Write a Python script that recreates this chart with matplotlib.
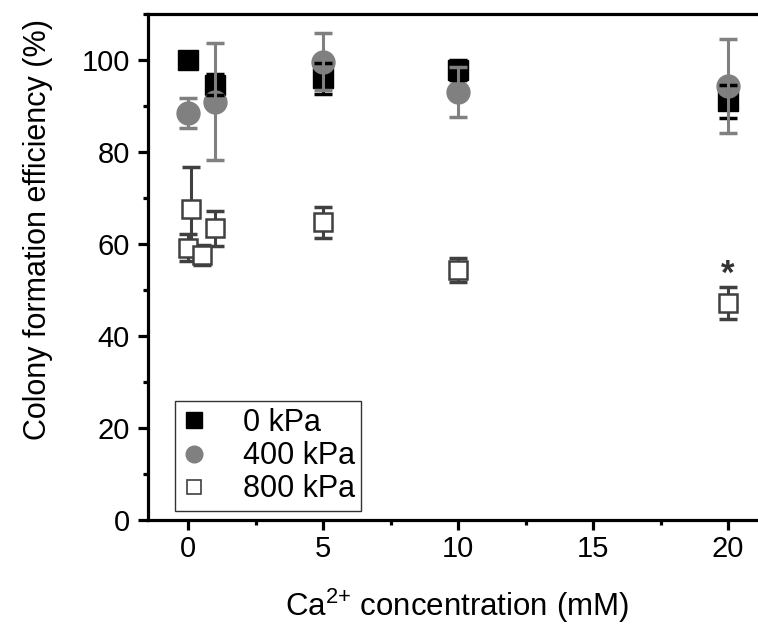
import matplotlib
matplotlib.use("Agg")
import matplotlib.pyplot as plt
from matplotlib.lines import Line2D
from matplotlib.ticker import MultipleLocator

plt.rcParams['font.family'] = ['Liberation Sans', 'DejaVu Sans']
plt.rcParams['mathtext.fontset'] = 'custom'
plt.rcParams['mathtext.rm'] = 'Liberation Sans'
plt.rcParams['mathtext.it'] = 'Liberation Sans'

# Colony formation efficiency (%) vs Ca2+ concentration (mM)
ca_0 = [0, 1, 5, 10, 20]
eff_0 = [100.0, 94.6, 96.0, 97.8, 91.0]
err_0 = [1.0, 2.3, 3.3, 2.2, 3.6]

ca_400 = [0, 1, 5, 10, 20]
eff_400 = [88.5, 90.9, 99.6, 93.1, 94.3]
err_400 = [3.3, 12.7, 6.2, 5.4, 10.2]

ca_800 = [0, 0.1, 0.5, 1, 5, 10, 20]
eff_800 = [59.2, 67.7, 57.6, 63.4, 64.7, 54.4, 47.2]
err_800 = [3.0, 9.0, 2.2, 3.8, 3.3, 2.6, 3.5]

labels = ["0 kPa", "400 kPa", "800 kPa"]
signif_x, signif_y = 20, 51.3

TICK_FS = 21
LABEL_FS = 22
LEG_FS = 22

fig = plt.figure(figsize=(7.58, 6.25), dpi=100)
ax = fig.add_axes([148 / 758, 105 / 625, (772 - 148) / 758, (520 - 14) / 625])

black, grey, dark = "#000000", "#808080", "#404040"

# markers for the two upper series
ax.plot(ca_0, eff_0, ls="none", marker="s", ms=15, mfc=black, mec=black, zorder=2)
ax.plot(ca_400, eff_400, ls="none", marker="o", ms=16.5, mfc=grey, mec=grey, zorder=2.1)
# their error bars sit above the markers
ax.errorbar(ca_0, eff_0, yerr=err_0, fmt="none", ecolor=black, elinewidth=2.2,
            capsize=6.5, capthick=2.5, zorder=3)
ax.errorbar(ca_400, eff_400, yerr=err_400, fmt="none", ecolor=grey, elinewidth=2.2,
            capsize=6.5, capthick=2.5, zorder=3.1)
# open squares on top of their own bars
ax.errorbar(ca_800, eff_800, yerr=err_800, fmt="none", ecolor=dark, elinewidth=2.2,
            capsize=6.5, capthick=2.5, zorder=4)
ax.plot(ca_800, eff_800, ls="none", marker="s", ms=13.5, mfc="white", mec=dark,
        mew=1.8, zorder=5)

ax.text(signif_x, signif_y, "*", ha="center", va="baseline", fontsize=25,
        fontweight="bold", color="#333333", zorder=6)

ax.set_xlim(-40 / 27.0, (772 - 188) / 27.0)
ax.set_ylim(0, 110)
ax.xaxis.set_major_locator(MultipleLocator(5))
ax.xaxis.set_minor_locator(MultipleLocator(2.5))
ax.yaxis.set_major_locator(MultipleLocator(20))
ax.yaxis.set_minor_locator(MultipleLocator(10))

for side in ["left", "bottom", "top"]:
    ax.spines[side].set_linewidth(2.3)
ax.spines["right"].set_visible(False)
ax.tick_params(which="major", direction="out", length=7.2, width=2.3,
               labelsize=TICK_FS)
ax.tick_params(axis="x", which="major", pad=3.5)
ax.tick_params(axis="y", which="major", pad=6)
ax.tick_params(which="minor", direction="out", length=3.8, width=2.3)
ax.tick_params(top=False, right=False, which="both")

ax.set_xlabel("Ca$^{\\mathrm{2{+}}}$ concentration (mM)", fontsize=LABEL_FS + 0.5,
              va="baseline")
ax.xaxis.set_label_coords((457 - 148) / 624, (520 - 616) / 506)
ax.set_ylabel("Colony formation efficiency (%)", fontsize=LABEL_FS, va="center")
ax.yaxis.set_label_coords((38 - 148) / 624, (520 - 229) / 506)

handles = [
    Line2D([], [], ls="none", marker="s", ms=11, mfc=black, mec=black),
    Line2D([], [], ls="none", marker="o", ms=12, mfc=grey, mec=grey),
    Line2D([], [], ls="none", marker="s", ms=10, mfc="white", mec=dark, mew=1.2),
]
leg = ax.legend(handles, labels, loc="lower left",
                bbox_to_anchor=((175 - 148) / 624, (520 - 511) / 506),
                fontsize=LEG_FS, frameon=True, fancybox=False, edgecolor="black",
                handlelength=0.8, handletextpad=1.19, labelspacing=0.1,
                borderpad=0.22, borderaxespad=0)
leg.get_frame().set_linewidth(1.0)

fig.savefig("out.png", dpi=100)
